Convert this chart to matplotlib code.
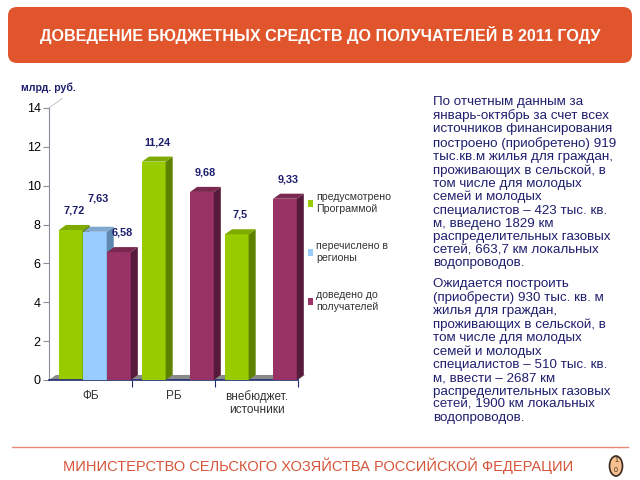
import numpy as np
import matplotlib
matplotlib.use("Agg")
import matplotlib.pyplot as plt
from matplotlib.patches import FancyBboxPatch, Polygon, Ellipse, Patch

plt.rcParams['font.family'] = ['Liberation Sans', 'DejaVu Sans']

# data
categories = ["ФБ", "РБ", "внебюджет.\nисточники"]
planned = [7.72, 11.24, 7.5]
transferred = [7.63, np.nan, np.nan]
delivered = [6.58, 9.68, 9.33]
series_names = ["предусмотрено\nПрограммой", "перечислено в\nрегионы", "доведено до\nполучателей"]
title = "ДОВЕДЕНИЕ БЮДЖЕТНЫХ СРЕДСТВ ДО ПОЛУЧАТЕЛЕЙ В 2011 ГОДУ"
footer = "МИНИСТЕРСТВО СЕЛЬСКОГО ХОЗЯЙСТВА РОССИЙСКОЙ ФЕДЕРАЦИИ"
para1 = ("По отчетным данным за\nянварь-октябрь за счет всех\nисточников финансирования\n"
         "построено (приобретено) 919\nтыс.кв.м жилья для граждан,\nпроживающих в сельской, в\n"
         "том числе для молодых\nсемей и молодых\nспециалистов – 423 тыс. кв.\nм, введено 1829 км\n"
         "распределительных газовых\nсетей, 663,7 км локальных\nводопроводов.")
para2 = ("Ожидается построить\n(приобрести) 930 тыс. кв. м\nжилья для граждан,\n"
         "проживающих в сельской, в\nтом числе для молодых\nсемей и молодых\n"
         "специалистов – 510 тыс. кв.\nм, ввести – 2687 км\nраспределительных газовых\n"
         "сетей, 1900 км локальных\nводопроводов.")

# colours: front, side, top
styles = [("#99CC00", "#5E8200", "#7FAA00"),
          ("#99CCFF", "#5F88B0", "#7FA8D0"),
          ("#993366", "#561A3A", "#7A284F")]
label_offsets = [1.0, 1.7, 1.0]
navy = "#1E1E6E"

fig = plt.figure(figsize=(6.4, 4.8), dpi=100)

# background layer in pixel coordinates
bg = fig.add_axes([0, 0, 1, 1])
bg.set_xlim(0, 640)
bg.set_ylim(480, 0)
bg.axis("off")
bg.add_patch(FancyBboxPatch((8, 7), 624, 56, boxstyle="round,pad=0,rounding_size=9",
                            facecolor="#E0552B", edgecolor="none"))
bg.text(320, 35, title, color="white", fontsize=11.6, fontweight="bold", ha="center", va="center")
bg.text(21, 88, "млрд. руб.", color=navy, fontsize=7.6, fontweight="bold", va="center")
bg.text(433, 96, para1, color=navy, fontsize=9.6, va="top", linespacing=1.13)
bg.text(433, 278, para2, color=navy, fontsize=9.6, va="top", linespacing=1.13)
bg.plot([12, 628], [447, 447], color="#E58A73", lw=1)
bg.text(318, 466, footer, color="#D6553A", fontsize=10.5, ha="center", va="center")
bg.add_patch(Ellipse((616, 466), 13, 20, facecolor="#F7C08E", edgecolor="#3A2A20", lw=1.2))
bg.text(616, 461, "1", fontsize=5, ha="center", va="center", color="#3A2A20")
bg.text(616, 471, "0", fontsize=5, ha="center", va="center", color="#3A2A20")

# chart
ax = fig.add_axes([49 / 640, 1 - 380 / 480, 249 / 640, 272 / 480])
ax.set_xlim(0, 3)
ax.set_ylim(0, 14)
ax.patch.set_alpha(0)

dx, dy = 0.085, 0.26
w = 0.285
ax.add_patch(Polygon([(0, 0), (3, 0), (3 + dx, dy), (dx, dy)], closed=True,
                     facecolor="#8A8A8A", edgecolor="none", clip_on=False, zorder=1))
ax.plot([0, 0.16], [14, 14.5], color="#BBBBBB", lw=0.6, clip_on=False)

all_series = [planned, transferred, delivered]
for i in range(len(categories)):
    for j, vals in enumerate(all_series):
        h = vals[i]
        if np.isnan(h):
            continue
        x = i + 0.12 + j * 0.29
        front, side, top = styles[j]
        ax.bar(x, h, width=w, align="edge", color=front, zorder=2 + i * 3 + j, clip_on=False)
        ax.add_patch(Polygon([(x + w, 0), (x + w + dx, dy), (x + w + dx, h + dy), (x + w, h)],
                             closed=True, facecolor=side, edgecolor="none",
                             zorder=2 + i * 3 + j, clip_on=False))
        ax.add_patch(Polygon([(x, h), (x + dx, h + dy), (x + w + dx, h + dy), (x + w, h)],
                             closed=True, facecolor=top, edgecolor="none",
                             zorder=2 + i * 3 + j, clip_on=False))
        ax.text(x + w / 2 + dx / 2, h + label_offsets[j], f"{h:g}".replace(".", ","),
                ha="center", va="center", fontsize=7.8, fontweight="bold", color=navy, zorder=30)

for s in ["top", "right"]:
    ax.spines[s].set_visible(False)
ax.spines["left"].set_color("#8C8CA0")
ax.spines["bottom"].set_color("#1E2A70")
ax.spines["bottom"].set_linewidth(1.2)
ax.set_yticks(np.arange(0, 15, 2))
ax.tick_params(axis="y", labelsize=9, length=4, color="#8C8CA0", pad=2)
ax.set_xticks([1, 2, 3])
ax.set_xticklabels([])
ax.tick_params(axis="x", which="major", length=5, color="#1E2A70")
ax.set_xticks([0.5, 1.5, 2.5], minor=True)
ax.set_xticklabels(categories, minor=True, fontsize=8.5, color="#333333")
ax.tick_params(axis="x", which="minor", length=0, pad=7)

handles = [Patch(facecolor=s[0]) for s in styles]
ax.legend(handles, series_names, loc="upper left", bbox_to_anchor=(1.0, 0.725),
          frameon=False, fontsize=7.6, handlelength=0.55, handleheight=0.55,
          handletextpad=0.3, labelspacing=2.6, labelcolor="#333333")

fig.savefig("out.png", dpi=100)
